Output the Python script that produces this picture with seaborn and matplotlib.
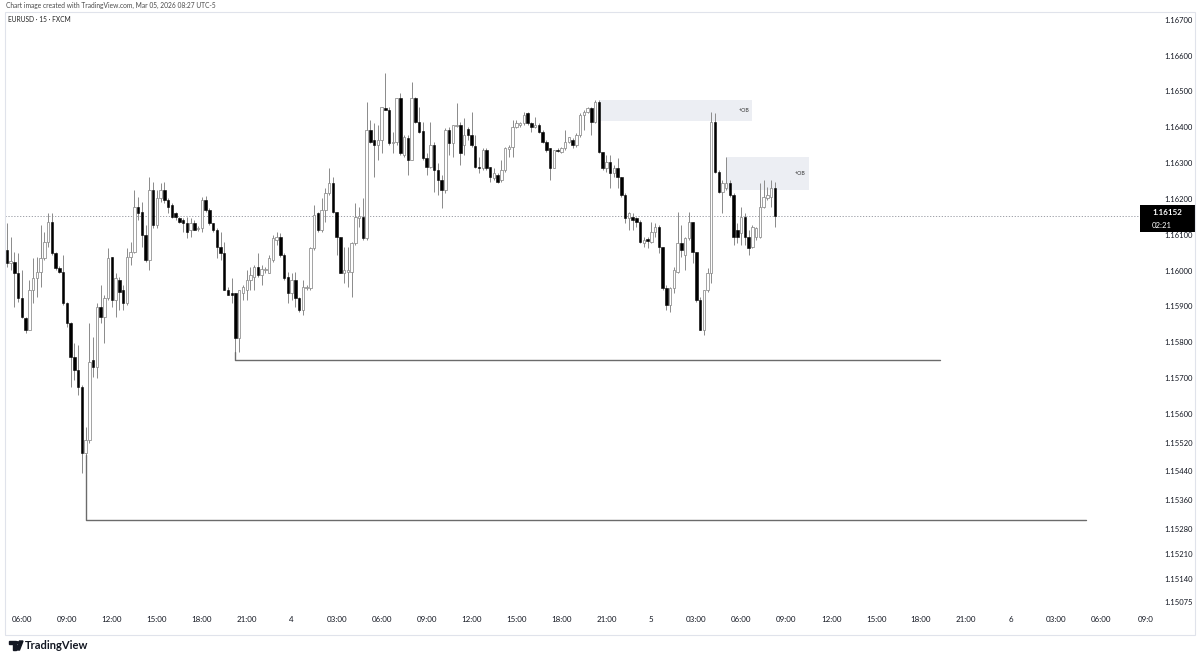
import matplotlib
matplotlib.use("Agg")
import matplotlib.pyplot as plt
import matplotlib.transforms as mtransforms
from matplotlib.patches import Rectangle, Polygon, Circle
import numpy as np
import pandas as pd
import seaborn as sns

# EURUSD 15m candles
opens = [
    1.16058, 1.16021, 1.16024, 1.15993, 1.15924, 1.15868, 1.15834, 1.15946, 1.15979, 1.15996,
    1.16035, 1.16080, 1.16136, 1.16049, 1.16007, 1.15996, 1.15910, 1.15854, 1.15759, 1.15723,
    1.15675, 1.15491, 1.15527, 1.15751, 1.15731, 1.15898, 1.15871, 1.15924, 1.16038, 1.15918,
    1.15974, 1.15946, 1.15910, 1.16038, 1.16052, 1.16177, 1.16163, 1.16099, 1.16030, 1.16225,
    1.16127, 1.16203, 1.16225, 1.16197, 1.16183, 1.16161, 1.16147, 1.16141, 1.16133, 1.16113,
    1.16133, 1.16116, 1.16119, 1.16197, 1.16169, 1.16133, 1.16113, 1.16066, 1.16049, 1.15946,
    1.15938, 1.15938, 1.15812, 1.15938, 1.15946, 1.15974, 1.15982, 1.16010, 1.15988, 1.16002,
    1.15993, 1.16030, 1.16085, 1.16094, 1.16044, 1.15982, 1.15938, 1.15974, 1.15924, 1.15890,
    1.15951, 1.15951, 1.16063, 1.16161, 1.16113, 1.16169, 1.16216, 1.16244, 1.16163, 1.16094,
    1.15993, 1.15996, 1.15996, 1.16077, 1.16147, 1.16150, 1.16091, 1.16392, 1.16364, 1.16350,
    1.16364, 1.16454, 1.16448, 1.16356, 1.16359, 1.16482, 1.16323, 1.16370, 1.16309, 1.16482,
    1.16415, 1.16390, 1.16314, 1.16289, 1.16350, 1.16281, 1.16253, 1.16225, 1.16392, 1.16356,
    1.16403, 1.16406, 1.16350, 1.16395, 1.16378, 1.16348, 1.16289, 1.16286, 1.16337, 1.16289,
    1.16258, 1.16267, 1.16253, 1.16281, 1.16340, 1.16345, 1.16401, 1.16406, 1.16412, 1.16440,
    1.16412, 1.16401, 1.16406, 1.16387, 1.16359, 1.16342, 1.16286, 1.16337, 1.16331, 1.16342,
    1.16359, 1.16364, 1.16350, 1.16378, 1.16434, 1.16443, 1.16454, 1.16415, 1.16470, 1.16331,
    1.16286, 1.16303, 1.16272, 1.16286, 1.16261, 1.16211, 1.16147, 1.16150, 1.16147, 1.16136,
    1.16077, 1.16088, 1.16080, 1.16108, 1.16122, 1.16066, 1.15951, 1.15904, 1.15951, 1.15996,
    1.16077, 1.16044, 1.16091, 1.16136, 1.16052, 1.15918, 1.15834, 1.15946, 1.15993, 1.16415,
    1.16275, 1.16219, 1.16230, 1.16244, 1.16211, 1.16113, 1.16105, 1.16150, 1.16094, 1.16066,
    1.16094, 1.16094, 1.16177, 1.16203, 1.16205, 1.16230,
]
highs = [
    1.16133, 1.16094, 1.16052, 1.16049, 1.16002, 1.15871, 1.15974, 1.16035, 1.16038, 1.16127,
    1.16108, 1.16161, 1.16161, 1.16052, 1.16013, 1.16044, 1.15912, 1.15857, 1.15798, 1.15792,
    1.15681, 1.15564, 1.15854, 1.15815, 1.15910, 1.15960, 1.15932, 1.16063, 1.16038, 1.15993,
    1.15982, 1.15960, 1.16063, 1.16080, 1.16225, 1.16205, 1.16191, 1.16127, 1.16261, 1.16247,
    1.16225, 1.16244, 1.16247, 1.16203, 1.16189, 1.16163, 1.16150, 1.16147, 1.16150, 1.16147,
    1.16141, 1.16124, 1.16205, 1.16208, 1.16175, 1.16133, 1.16119, 1.16108, 1.16080, 1.15954,
    1.15979, 1.15938, 1.15946, 1.15960, 1.16002, 1.16010, 1.16016, 1.16049, 1.16016, 1.16010,
    1.16044, 1.16099, 1.16108, 1.16105, 1.16049, 1.15996, 1.15993, 1.15996, 1.15926, 1.15974,
    1.15960, 1.16066, 1.16183, 1.16163, 1.16203, 1.16230, 1.16286, 1.16261, 1.16163, 1.16094,
    1.16066, 1.16066, 1.16080, 1.16189, 1.16177, 1.16203, 1.16470, 1.16420, 1.16412, 1.16406,
    1.16457, 1.16551, 1.16457, 1.16387, 1.16482, 1.16496, 1.16378, 1.16378, 1.16526, 1.16484,
    1.16457, 1.16415, 1.16328, 1.16415, 1.16359, 1.16300, 1.16267, 1.16398, 1.16401, 1.16406,
    1.16468, 1.16415, 1.16426, 1.16401, 1.16443, 1.16378, 1.16317, 1.16342, 1.16342, 1.16289,
    1.16286, 1.16272, 1.16309, 1.16345, 1.16350, 1.16420, 1.16420, 1.16415, 1.16443, 1.16443,
    1.16415, 1.16429, 1.16412, 1.16392, 1.16364, 1.16342, 1.16337, 1.16342, 1.16345, 1.16392,
    1.16373, 1.16370, 1.16384, 1.16440, 1.16448, 1.16457, 1.16457, 1.16476, 1.16476, 1.16331,
    1.16323, 1.16323, 1.16295, 1.16314, 1.16261, 1.16216, 1.16163, 1.16161, 1.16150, 1.16141,
    1.16094, 1.16094, 1.16136, 1.16133, 1.16127, 1.16066, 1.15960, 1.15954, 1.16010, 1.16163,
    1.16127, 1.16094, 1.16163, 1.16136, 1.16052, 1.15926, 1.15946, 1.16007, 1.16443, 1.16440,
    1.16281, 1.16253, 1.16317, 1.16253, 1.16216, 1.16133, 1.16177, 1.16161, 1.16113, 1.16127,
    1.16122, 1.16244, 1.16253, 1.16233, 1.16253, 1.16247,
]
lows = [
    1.16010, 1.16002, 1.15898, 1.15912, 1.15868, 1.15826, 1.15834, 1.15910, 1.15926, 1.15954,
    1.16030, 1.16066, 1.16044, 1.16002, 1.15993, 1.15904, 1.15843, 1.15675, 1.15695, 1.15653,
    1.15435, 1.15486, 1.15519, 1.15703, 1.15700, 1.15854, 1.15798, 1.15918, 1.15898, 1.15871,
    1.15890, 1.15890, 1.15904, 1.16016, 1.16049, 1.16141, 1.16066, 1.16024, 1.16002, 1.16119,
    1.16119, 1.16191, 1.16189, 1.16161, 1.16147, 1.16141, 1.16133, 1.16108, 1.16091, 1.16094,
    1.16113, 1.16110, 1.16108, 1.16163, 1.16127, 1.16108, 1.16035, 1.16030, 1.15946, 1.15932,
    1.15910, 1.15773, 1.15773, 1.15918, 1.15918, 1.15946, 1.15946, 1.15982, 1.15960, 1.15993,
    1.15993, 1.16024, 1.16071, 1.16038, 1.15974, 1.15910, 1.15918, 1.15898, 1.15885, 1.15876,
    1.15946, 1.15946, 1.16058, 1.16108, 1.16108, 1.16136, 1.16211, 1.16161, 1.16044, 1.15993,
    1.15965, 1.15954, 1.15926, 1.16071, 1.16122, 1.16085, 1.16085, 1.16356, 1.16261, 1.16309,
    1.16328, 1.16448, 1.16350, 1.16328, 1.16350, 1.16323, 1.16317, 1.16267, 1.16309, 1.16412,
    1.16384, 1.16309, 1.16267, 1.16286, 1.16219, 1.16211, 1.16175, 1.16216, 1.16323, 1.16317,
    1.16401, 1.16295, 1.16323, 1.16364, 1.16345, 1.16286, 1.16272, 1.16281, 1.16281, 1.16247,
    1.16253, 1.16244, 1.16247, 1.16275, 1.16317, 1.16317, 1.16398, 1.16401, 1.16406, 1.16406,
    1.16387, 1.16398, 1.16384, 1.16356, 1.16331, 1.16253, 1.16286, 1.16331, 1.16328, 1.16337,
    1.16356, 1.16342, 1.16345, 1.16373, 1.16392, 1.16440, 1.16378, 1.16412, 1.16328, 1.16281,
    1.16275, 1.16230, 1.16261, 1.16230, 1.16205, 1.16133, 1.16113, 1.16113, 1.16122, 1.16077,
    1.16066, 1.16063, 1.16077, 1.16094, 1.16049, 1.15946, 1.15890, 1.15885, 1.15938, 1.15993,
    1.16038, 1.16002, 1.16085, 1.16021, 1.15912, 1.15834, 1.15820, 1.15940, 1.15965, 1.16272,
    1.16216, 1.16161, 1.16225, 1.16205, 1.16071, 1.16077, 1.16071, 1.16071, 1.16044, 1.16063,
    1.16085, 1.16091, 1.16175, 1.16197, 1.16177, 1.16122,
]
closes = [
    1.16021, 1.16027, 1.15993, 1.15924, 1.15871, 1.15834, 1.15946, 1.15979, 1.15996, 1.16035,
    1.16080, 1.16136, 1.16049, 1.16007, 1.15996, 1.15910, 1.15854, 1.15759, 1.15723, 1.15675,
    1.15491, 1.15527, 1.15745, 1.15731, 1.15898, 1.15871, 1.15924, 1.16035, 1.15918, 1.15979,
    1.15940, 1.15910, 1.16038, 1.16052, 1.16177, 1.16161, 1.16099, 1.16030, 1.16225, 1.16127,
    1.16203, 1.16225, 1.16197, 1.16177, 1.16150, 1.16150, 1.16136, 1.16133, 1.16108, 1.16133,
    1.16113, 1.16119, 1.16197, 1.16169, 1.16133, 1.16113, 1.16066, 1.16049, 1.15946, 1.15932,
    1.15932, 1.15812, 1.15946, 1.15954, 1.15974, 1.15988, 1.16010, 1.15988, 1.16005, 1.16005,
    1.16035, 1.16091, 1.16094, 1.16044, 1.15979, 1.15938, 1.15974, 1.15924, 1.15890, 1.15954,
    1.15954, 1.16063, 1.16155, 1.16113, 1.16169, 1.16216, 1.16244, 1.16163, 1.16094, 1.15993,
    1.16002, 1.16002, 1.16077, 1.16150, 1.16152, 1.16091, 1.16392, 1.16359, 1.16350, 1.16364,
    1.16457, 1.16448, 1.16356, 1.16359, 1.16482, 1.16328, 1.16373, 1.16309, 1.16482, 1.16415,
    1.16387, 1.16314, 1.16289, 1.16350, 1.16281, 1.16253, 1.16225, 1.16392, 1.16356, 1.16406,
    1.16406, 1.16328, 1.16378, 1.16378, 1.16350, 1.16289, 1.16286, 1.16337, 1.16286, 1.16261,
    1.16272, 1.16247, 1.16281, 1.16342, 1.16345, 1.16401, 1.16412, 1.16412, 1.16434, 1.16412,
    1.16401, 1.16406, 1.16387, 1.16359, 1.16337, 1.16286, 1.16337, 1.16335, 1.16342, 1.16359,
    1.16373, 1.16350, 1.16378, 1.16434, 1.16443, 1.16454, 1.16415, 1.16470, 1.16331, 1.16286,
    1.16303, 1.16272, 1.16286, 1.16261, 1.16211, 1.16147, 1.16161, 1.16141, 1.16136, 1.16080,
    1.16085, 1.16082, 1.16108, 1.16122, 1.16066, 1.15951, 1.15904, 1.15951, 1.16002, 1.16077,
    1.16058, 1.16091, 1.16136, 1.16052, 1.15918, 1.15834, 1.15946, 1.15993, 1.16415, 1.16275,
    1.16219, 1.16244, 1.16244, 1.16211, 1.16094, 1.16094, 1.16150, 1.16094, 1.16063, 1.16122,
    1.16119, 1.16177, 1.16205, 1.16211, 1.16230, 1.16152,
]

start_time = "2026-03-03 05:00"
last_price = 1.16152
countdown = "02:21"

price_ticks = [1.167, 1.166, 1.165, 1.164, 1.163, 1.162, 1.161, 1.160, 1.159, 1.158,
               1.157, 1.156, 1.1552, 1.1544, 1.1536, 1.1528, 1.1521, 1.1514, 1.15075]
first_time_tick = "2026-03-03 06:00"
time_labels = ["06:00", "09:00", "12:00", "15:00", "18:00", "21:00", "4",
               "03:00", "06:00", "09:00", "12:00", "15:00", "18:00", "21:00", "5",
               "03:00", "06:00", "09:00", "12:00", "15:00", "18:00", "21:00", "6",
               "03:00", "06:00", "09:0"]

# drawn levels: anchor candle, level, end candle
level_anchor = [21, 61]
level_price = [1.15304, 1.15751]
level_end = [288, 249]

# order blocks: start candle, end candle, top, bottom, label
ob_start = [158, 192]
ob_end = [199, 214]
ob_top = [1.16476, 1.16317]
ob_bottom = [1.16417, 1.16225]
ob_label = ["+OB", "+OB"]

df = pd.DataFrame({
    "time": pd.date_range(start_time, periods=len(opens), freq="15min"),
    "open": opens, "high": highs, "low": lows, "close": closes,
})
df["x"] = np.arange(len(df))
df["up"] = df["close"] >= df["open"]

sns.set_style("white")
plt.rcParams["font.family"] = ["Lato", "DejaVu Sans"]

W, H = 1200, 659
fig = plt.figure(figsize=(12, 6.59), dpi=100)
ax = fig.add_axes([5 / W, 51 / H, 1135 / W, 596 / H])
ax.set_xlim(-0.53, 302.45)
ax.set_ylim(1.150587, 1.167215)
for s in ax.spines.values():
    s.set_visible(False)

# order blocks
for s0, s1, top, bot, lab in zip(ob_start, ob_end, ob_top, ob_bottom, ob_label):
    ax.add_patch(Rectangle((s0, bot), s1 - s0, top - bot, facecolor="#eceef3",
                           edgecolor="none", zorder=0))
    ax.text(s1 - 0.8, (top + bot) / 2, lab, fontsize=3.8, color="#333333",
            ha="right", va="center", zorder=1)

# last price dotted line
ax.axhline(last_price, color="#8f929b", lw=0.6, ls=(0, (1.5, 2)), zorder=0.5)

# wicks and bodies
ax.vlines(df["x"], df["low"], df["high"], color="#8a8a8a", lw=0.7, zorder=1)
body_bot = df[["open", "close"]].min(axis=1)
body_h = (df["close"] - df["open"]).abs().clip(lower=0.000025)
up = df["up"]
ax.bar(df["x"][up], body_h[up], bottom=body_bot[up], width=0.66, color="white",
       edgecolor="#8a8a8a", linewidth=0.55, zorder=2)
ax.bar(df["x"][~up], body_h[~up], bottom=body_bot[~up], width=0.66, color="black",
       edgecolor="black", linewidth=0.4, zorder=2)

# drawn level lines
for a, lvl, e in zip(level_anchor, level_price, level_end):
    seg = pd.DataFrame({"x": [a, a, e], "y": [df["low"][a], lvl, lvl]})
    sns.lineplot(data=seg, x="x", y="y", sort=False, estimator=None, ax=ax,
                 color="#6b6b6b", lw=1.0, zorder=3)
ax.set_xlabel("")
ax.set_ylabel("")

# price scale
ax.yaxis.tick_right()
ax.set_yticks(price_ticks)
ax.set_yticklabels([f"{p:.5f}" for p in price_ticks], fontsize=5.5, color="#131722")
ax.tick_params(axis="y", length=0, pad=38)
for lab in ax.get_yticklabels():
    lab.set_horizontalalignment("right")

# time scale
ax.set_xticks([])
t0 = pd.Timestamp(start_time)
tick_times = pd.date_range(first_time_tick, periods=len(time_labels), freq="3h")
tick_x = (tick_times - t0) / pd.Timedelta("15min")
for tx, lab in zip(tick_x, time_labels):
    ax.text(tx, -0.02, lab, transform=ax.get_xaxis_transform(), fontsize=5.8,
            color="#131722", ha="center", va="center", clip_on=False)

# last price label
blend = mtransforms.blended_transform_factory(ax.transAxes, ax.transData)
ax.add_patch(Rectangle((1.0, 1.16107), 55 / 1135, 0.00076, transform=blend,
                       facecolor="black", edgecolor="none", clip_on=False, zorder=5))
ax.text(1.0 + 27 / 1135, 1.16162, f"{last_price:.5f}", transform=blend, color="white",
        fontsize=5.8, fontweight="bold", ha="center", va="center", zorder=6)
ax.text(1.0 + 22 / 1135, 1.16126, countdown, transform=blend, color="white",
        fontsize=5.6, ha="center", va="center", zorder=6)

# frame and header
fig.add_artist(Rectangle((5 / W, 1 - 635 / H), 1190 / W, 623 / H, transform=fig.transFigure,
                         fill=False, edgecolor="#e0e3eb", lw=0.8))
fig.text(6 / W, 1 - 5 / H, "Chart image created with TradingView.com, Mar 05, 2026 08:27 UTC-5",
         fontsize=4.8, color="#4a4a4a", va="center")
fig.text(8 / W, 1 - 20 / H, "EURUSD · 15 · FXCM", fontsize=4.8, color="#222222", va="center")

# TradingView logo
def fp(x, y):
    return (x / W, 1 - y / H)

fig.add_artist(Polygon([fp(9, 641), fp(15.5, 641), fp(15.5, 650), fp(12.5, 650),
                        fp(12.5, 644), fp(9, 644)], closed=True,
                       transform=fig.transFigure, color="#131722"))
fig.add_artist(Circle(fp(17.5, 642.6), 1.5 / W, transform=fig.transFigure, color="#131722"))
fig.add_artist(Polygon([fp(19.5, 641), fp(23, 641), fp(19.5, 650), fp(16, 650)], closed=True,
                       transform=fig.transFigure, color="#131722"))
fig.text(25 / W, 1 - 645.5 / H, "TradingView", fontsize=8, fontweight="bold",
         color="#131722", va="center")

fig.savefig("out.png", dpi=100)
